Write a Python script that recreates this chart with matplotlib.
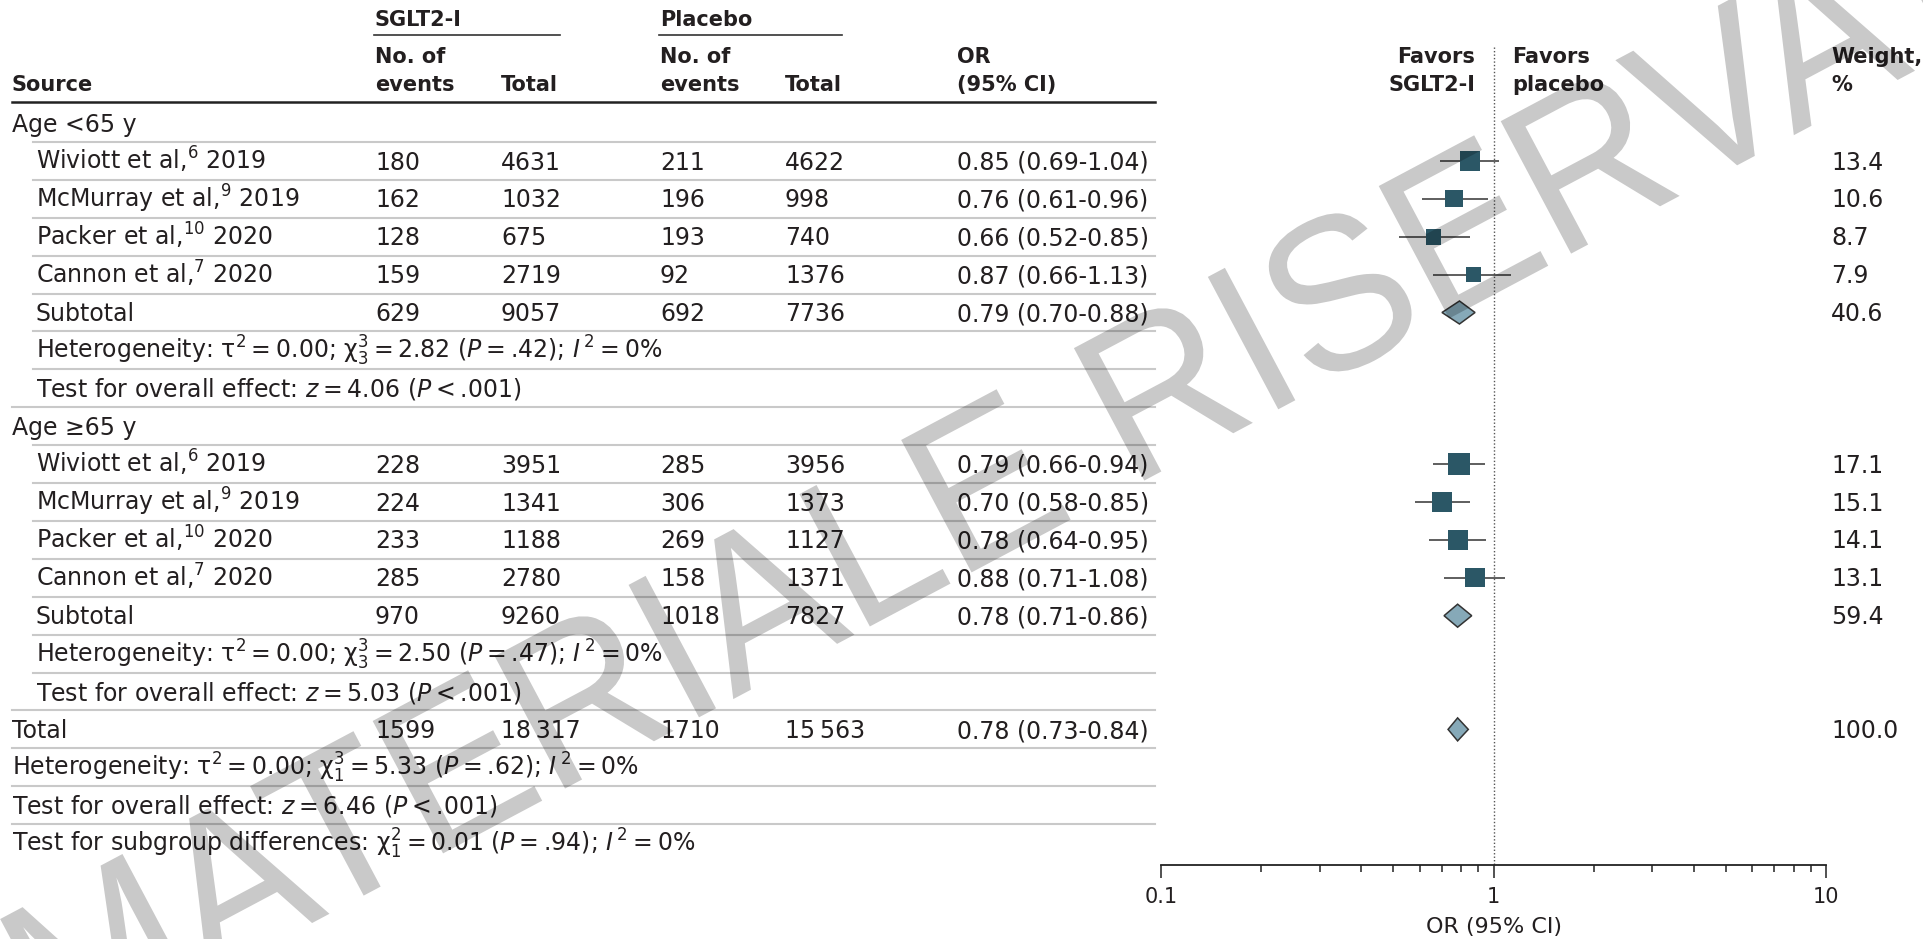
import numpy as np
import matplotlib
matplotlib.use('Agg')
import matplotlib.pyplot as plt
from matplotlib.ticker import LogLocator, FuncFormatter, NullFormatter
from matplotlib.textpath import TextPath
from matplotlib.patches import PathPatch
from matplotlib.font_manager import FontProperties
from matplotlib.transforms import Affine2D

# --- data ---
studies = ['Wiviott et al,$^{6}$ 2019', 'McMurray et al,$^{9}$ 2019',
           'Packer et al,$^{10}$ 2020', 'Cannon et al,$^{7}$ 2020']

lt65_sglt_events = [180, 162, 128, 159]
lt65_sglt_total = [4631, 1032, 675, 2719]
lt65_pl_events = [211, 196, 193, 92]
lt65_pl_total = [4622, 998, 740, 1376]
lt65_or = [0.85, 0.76, 0.66, 0.87]
lt65_lo = [0.69, 0.61, 0.52, 0.66]
lt65_hi = [1.04, 0.96, 0.85, 1.13]
lt65_weight = [13.4, 10.6, 8.7, 7.9]
lt65_sub = [629, 9057, 692, 7736]
lt65_sub_or = [0.79, 0.70, 0.88]
lt65_sub_weight = 40.6

ge65_sglt_events = [228, 224, 233, 285]
ge65_sglt_total = [3951, 1341, 1188, 2780]
ge65_pl_events = [285, 306, 269, 158]
ge65_pl_total = [3956, 1373, 1127, 1371]
ge65_or = [0.79, 0.70, 0.78, 0.88]
ge65_lo = [0.66, 0.58, 0.64, 0.71]
ge65_hi = [0.94, 0.85, 0.95, 1.08]
ge65_weight = [17.1, 15.1, 14.1, 13.1]
ge65_sub = [970, 9260, 1018, 7827]
ge65_sub_or = [0.78, 0.71, 0.86]
ge65_sub_weight = 59.4

total_counts = [1599, 18317, 1710, 15563]
total_or = [0.78, 0.73, 0.84]
total_weight = 100.0

T = '\u2009'
het_lt65 = f'Heterogeneity: τ$^2${T}={T}0.00; χ$^3_3${T}={T}2.82 ($P${T}={T}.42); $I^{{\\,2}}${T}={T}0%'
test_lt65 = f'Test for overall effect: $z${T}={T}4.06 ($P${T}<{T}.001)'
het_ge65 = f'Heterogeneity: τ$^2${T}={T}0.00; χ$^3_3${T}={T}2.50 ($P${T}={T}.47); $I^{{\\,2}}${T}={T}0%'
test_ge65 = f'Test for overall effect: $z${T}={T}5.03 ($P${T}<{T}.001)'
het_total = f'Heterogeneity: τ$^2${T}={T}0.00; χ$^3_1${T}={T}5.33 ($P${T}={T}.62); $I^{{\\,2}}${T}={T}0%'
test_total = f'Test for overall effect: $z${T}={T}6.46 ($P${T}<{T}.001)'
test_sub = f'Test for subgroup differences: χ$^2_1${T}={T}0.01 ($P${T}={T}.94); $I^{{\\,2}}${T}={T}0%'

watermark = 'MATERIALE RISERVATO'

# --- layout (pixels) ---
W, H = 1924, 939
TXT = '#231f20'
SQ = '#2b5766'
DIA = '#86a9b8'
ROW0, ROW_H = 123, 37.9
X_SRC, X_IND = 12, 36
X_COLS = [375, 501, 660, 785, 957]
X_W = 1831
LINE_END = 1155
AX_L, AX_R, AX_Y = 1161, 1826, 865
FS, FS_H = 17, 15


def fmt(n):
    return f'{n:,}'.replace(',', T) if n >= 10000 else str(n)


def or_txt(o, lo, hi):
    return f'{o:.2f} ({lo:.2f}-{hi:.2f})'


rows = []


def add_group(title, ev1, n1, ev2, n2, ors, los, his, ws, sub, sub_or, sub_w, het, test):
    rows.append(dict(label=title, x=X_SRC, line=X_IND - 3))
    for i in range(len(studies)):
        rows.append(dict(label=studies[i], x=X_IND, line=X_IND - 3,
                         cells=[str(ev1[i]), str(n1[i]), str(ev2[i]), str(n2[i]),
                                or_txt(ors[i], los[i], his[i])],
                         w=f'{ws[i]:.1f}', mark=('sq', ors[i], los[i], his[i], ws[i])))
    rows.append(dict(label='Subtotal', x=X_IND, line=X_IND - 3,
                     cells=[fmt(v) for v in sub] + [or_txt(*sub_or)],
                     w=f'{sub_w:.1f}', mark=('dia',) + tuple(sub_or)))
    rows.append(dict(label=het, x=X_IND, line=X_IND - 3))
    rows.append(dict(label=test, x=X_IND, line=X_SRC))


add_group('Age <65 y', lt65_sglt_events, lt65_sglt_total, lt65_pl_events, lt65_pl_total,
          lt65_or, lt65_lo, lt65_hi, lt65_weight, lt65_sub, lt65_sub_or, lt65_sub_weight,
          het_lt65, test_lt65)
add_group('Age ≥65 y', ge65_sglt_events, ge65_sglt_total, ge65_pl_events, ge65_pl_total,
          ge65_or, ge65_lo, ge65_hi, ge65_weight, ge65_sub, ge65_sub_or, ge65_sub_weight,
          het_ge65, test_ge65)
rows.append(dict(label='Total', x=X_SRC, line=X_SRC,
                 cells=[fmt(v) for v in total_counts] + [or_txt(*total_or)],
                 w=f'{total_weight:.1f}', mark=('dia',) + tuple(total_or)))
rows.append(dict(label=het_total, x=X_SRC, line=X_SRC))
rows.append(dict(label=test_total, x=X_SRC, line=X_SRC))
rows.append(dict(label=test_sub, x=X_SRC, line=None))

fig = plt.figure(figsize=(W / 100, H / 100), dpi=100)
tab = fig.add_axes([0, 0, 1, 1])
tab.set_xlim(0, W)
tab.set_ylim(H, 0)
tab.axis('off')

# header
hb = 7.6
def head(x, y, s, ha='left'):
    tab.text(x, y + hb, s, fontsize=FS_H, fontweight='bold', color=TXT, ha=ha, va='baseline')

head(X_COLS[0], 18, 'SGLT2-I')
head(X_COLS[2], 18, 'Placebo')
tab.plot([374, 560], [35, 35], color='#333333', lw=1.2)
tab.plot([659, 842], [35, 35], color='#333333', lw=1.2)
for xc in (X_COLS[0], X_COLS[2]):
    head(xc, 55, 'No. of')
    head(xc, 83, 'events')
head(X_COLS[1], 83, 'Total')
head(X_COLS[3], 83, 'Total')
head(X_SRC, 83, 'Source')
head(X_COLS[4], 55, 'OR')
head(X_COLS[4], 83, '(95% CI)')
head(1475, 55, 'Favors', ha='right')
head(1475, 83, 'SGLT2-I', ha='right')
head(1512, 55, 'Favors')
head(1512, 83, 'placebo')
head(X_W, 55, 'Weight,')
head(X_W, 83, '%')
tab.plot([X_SRC, LINE_END], [102, 102], color='#222222', lw=1.8)

# table body
bb = 8.6
ys = []
for k, r in enumerate(rows):
    y = ROW0 + ROW_H * k
    ys.append(y)
    tab.text(r['x'], y + bb, r['label'], fontsize=FS, color=TXT, va='baseline')
    for xc, s in zip(X_COLS, r.get('cells', [])):
        tab.text(xc, y + bb, s, fontsize=FS, color=TXT, va='baseline')
    if 'w' in r:
        tab.text(X_W, y + bb, r['w'], fontsize=FS, color=TXT, va='baseline')
    if r['line'] is not None:
        tab.plot([r['line'], LINE_END], [y + ROW_H / 2] * 2, color='#c9c9c9', lw=1.5)

# forest panel
fx = fig.add_axes([AX_L / W, (H - AX_Y) / H, (AX_R - AX_L) / W, AX_Y / H])
fx.patch.set_alpha(0)
fx.set_xscale('log')
fx.set_xlim(0.1, 10)
fx.set_ylim(AX_Y, 0)
for s in ('top', 'left', 'right'):
    fx.spines[s].set_visible(False)
fx.spines['bottom'].set_linewidth(1.3)
fx.spines['bottom'].set_color('#222222')
fx.set_yticks([])
fx.xaxis.set_major_locator(LogLocator(base=10))
fx.xaxis.set_minor_locator(LogLocator(base=10, subs=np.arange(2, 10)))
fx.xaxis.set_major_formatter(FuncFormatter(lambda v, p: f'{v:g}'))
fx.xaxis.set_minor_formatter(NullFormatter())
fx.tick_params(which='major', length=9.4, width=1.1, color='#222222', labelsize=15,
               labelcolor=TXT, pad=6.5)
fx.tick_params(which='minor', length=5, width=1.1, color='#222222')
fx.set_xlabel('OR (95% CI)', fontsize=16, color=TXT, labelpad=7)
fx.plot([1, 1], [47, AX_Y], ls=(0, (1, 1.5)), color='#555555', lw=1)

sq_y, sq_or, sq_lo, sq_hi, sq_w = [], [], [], [], []
for r, y in zip(rows, ys):
    m = r.get('mark')
    if m is None:
        continue
    if m[0] == 'sq':
        sq_y.append(y); sq_or.append(m[1]); sq_lo.append(m[2]); sq_hi.append(m[3]); sq_w.append(m[4])
    else:
        o, lo, hi = m[1:]
        fx.fill([lo, o, hi, o], [y, y - 11.5, y, y + 11.5], fc=DIA, ec='#333333', lw=1.1, zorder=3)
fx.hlines(sq_y, sq_lo, sq_hi, color='#333333', lw=1.1, zorder=2)
side = 5.32 * np.sqrt(np.array(sq_w)) * 0.72
fx.scatter(sq_or, sq_y, s=side ** 2, marker='s', color=SQ, linewidths=0, zorder=3)

# watermark, drawn as a text outline on top of everything
wm = fig.add_axes([0, 0, 1, 1])
wm.set_xlim(0, W)
wm.set_ylim(H, 0)
wm.axis('off')
wm.patch.set_alpha(0)
tp = TextPath((0, 0), watermark, size=218, prop=FontProperties(family='Liberation Sans'))
ext = tp.get_extents()
tr = (Affine2D().translate(-(ext.x0 + ext.x1) / 2, -(ext.y0 + ext.y1) / 2)
      .scale(0.95, -1).rotate_deg(-28).translate(1072, 434))
wm.add_patch(PathPatch(tr.transform_path(tp), fc='black', ec='none', alpha=0.21))

fig.savefig('out.png', dpi=100)
